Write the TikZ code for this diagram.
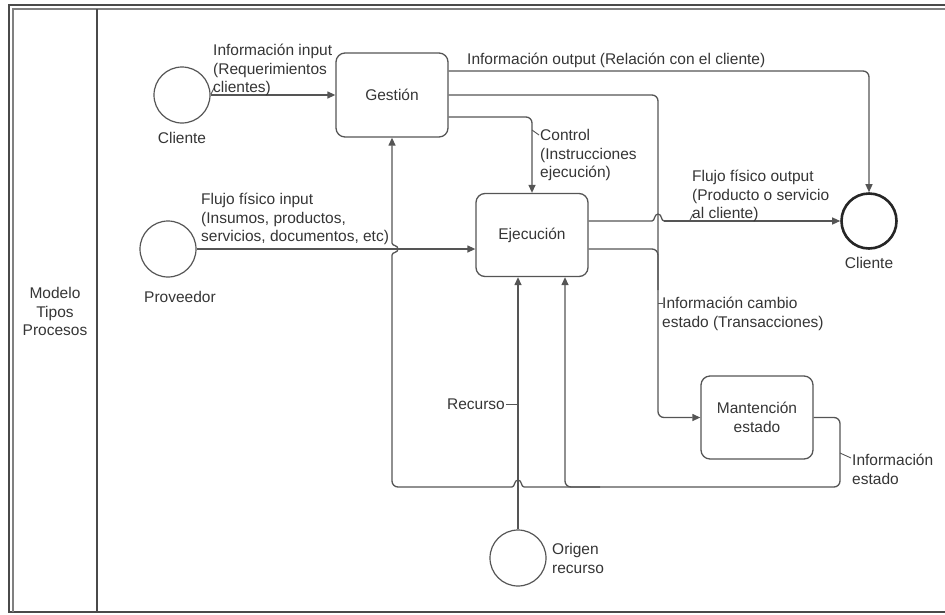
\documentclass[tikz,border=0pt]{standalone}
\usepackage{fontspec}
\setmainfont{Liberation Sans}
\usetikzlibrary{arrows.meta}

\definecolor{ln}{HTML}{555555}
\definecolor{tx}{HTML}{353535}
\definecolor{fr}{HTML}{4A4A4A}

\begin{document}
\begin{tikzpicture}[x=1pt,y=-1pt,
  every node/.style={text=tx, font=\fontsize{15.5}{18.5}\selectfont},
  proc/.style={draw=ln, line width=1.3pt, rounded corners=9pt, minimum width=112pt,
    minimum height=84pt, align=center, inner sep=0pt},
  actor/.style={draw=ln, line width=1.2pt, circle, minimum size=56pt, inner sep=0pt},
  goal/.style={draw=black!85, line width=2.6pt, circle, minimum size=55pt, inner sep=0pt},
  conn/.style={draw=ln, line width=1.3pt, rounded corners=6pt},
  hop/.style={draw=ln, line width=1.3pt, sharp corners},
  arr/.style={conn, -{Triangle[length=8pt,width=7pt]}},
  hoparr/.style={hop, -{Triangle[length=8pt,width=7pt]}},
  lead/.style={draw=ln, line width=0.9pt},
  lbl/.style={align=left, inner sep=0pt, anchor=north west},
]
\useasboundingbox (0,0) rectangle (945,614);

% frame and lane
\draw[fr, line width=1.6pt] (945,5) -| (9,612) -- (945,612);
\draw[fr!70, line width=1.1pt] (945,9) -| (13,612);
\draw[fr, line width=1.3pt] (97,9) -- (97,612);
\node[align=center, inner sep=0pt, anchor=north] (lane) at (55,285.5)
  {\strut Modelo\\Tipos\\Procesos};

% processes
\node[proc] (gestion) at (392,95) {Gestión};
\node[proc, minimum height=83pt] (ejec) at (532,235) {Ejecución};
\node[proc, minimum height=83pt] (mant) at (757,417.5) {Mantención\\estado};

% actors
\node[actor] (cliL) at (182,95) {};
\node (cliLt) at (182,138) {Cliente};
\node[actor] (prov) at (168,249) {};
\node (provt) at (180,297) {Proveedor};
\node[goal] (cliR) at (869,221) {};
\node (cliRt) at (869,263) {Cliente};
\node[actor] (orig) at (518,558) {};
\node[lbl] (origt) at (552,541.5) {\strut Origen\\recurso};

\coordinate (bus) at (658,0);

% information input
\draw[arr] (cliL) -- (gestion);
\node[lbl] (inInfo) at (213,42.5) {\strut Información input\\(Requerimientos\\clientes)};
\draw[lead] (211,94) -- (214,88);

% information output to the client
\draw[arr] ([yshift=24pt]gestion.east) -| (cliR.north);
\node[lbl] (outInfo) at (467,51.5) {\strut Información output (Relación con el cliente)};

% control
\draw[arr] ([yshift=-22pt]gestion.east) -| (ejec.north);
\node[lbl] (ctrl) at (540,127.5) {\strut Control\\(Instrucciones\\ejecución)};
\draw[lead] (532,130) -- (539,135);

% state change information
\draw[arr] (gestion.east) -| (bus |- mant.west) -- (mant.west);
\draw[conn] ([yshift=-14pt]ejec.east) -| (658,290);
\node[lbl] (chg) at (662,295.5) {\strut Información cambio\\ estado (Transacciones)};
\draw[lead] (658,303) -- (663,303);

% physical input
\draw[arr] (prov.east) -- ([yshift=-14pt]ejec.west);
\node[lbl] (physIn) at (201,191.5) {\strut Flujo físico input\\(Insumos, productos,\\servicios, documentos, etc)};

% physical output with a jump over the bus
\draw[hop] ([yshift=14pt]ejec.east) -- (652,221)
  .. controls (655,221) and (654,214) .. (658,214)
  .. controls (662,214) and (661,221) .. (664,221);
\draw[hoparr] (664,221) -- (cliR.west);
\node[lbl] (physOut) at (692,168.5) {\strut Flujo físico output\\(Producto o servicio\\al cliente)};
\draw[lead] (690,220) -- (693,214);

% resource
\draw[arr] (orig.north) -- (orig.north |- ejec.south);
\node[anchor=east, inner sep=0pt] (rec) at (505,404) {Recurso};
\draw[lead] (506,404) -- (518,404);

% state information back to Gestión and Ejecución
\draw[conn] (mant.east) -| (840,487) -- (524,487);
\draw[hop] (524,487) .. controls (521,487) and (522,480) .. (518,480)
  .. controls (514,480) and (515,487) .. (512,487);
\draw[conn] (512,487) -| (392,255);
\draw[hoparr] (392,255) .. controls (392,252) and (398,253) .. (398,249)
  .. controls (398,245) and (392,246) .. (392,243) -- (gestion.south);
\draw[arr] (600,487) -| ([xshift=33pt]ejec.south);
\node[lbl] (stInfo) at (852,452.5) {\strut Información\\estado};
\draw[lead] (840,453) -- (851,458);
\end{tikzpicture}
\end{document}
